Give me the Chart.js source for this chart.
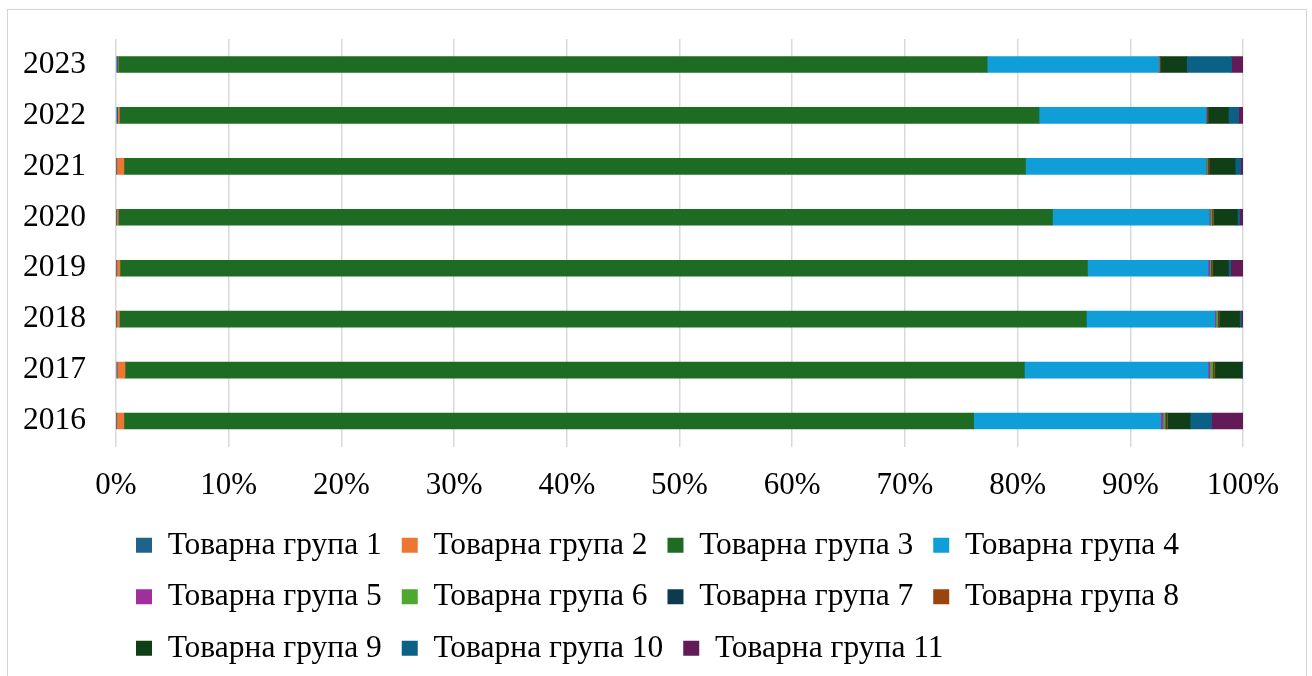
<!DOCTYPE html>
<html>
<head>
<meta charset="utf-8">
<script src="https://cdn.jsdelivr.net/npm/chart.js@4"></script>
<style>
  body { margin: 0; background: #fff; }
  #frame {
    position: absolute; left: 7px; top: 9px;
    width: 1298px; height: 700px;
    border: 1px solid #d4d4d4;
  }
  #wrap { position: relative; width: 1298px; height: 666px; }
</style>
</head>
<body>
<div id="frame">
  <div id="wrap"><canvas id="chart"></canvas></div>
</div>
<script>
const years = ['2016', '2017', '2018', '2019', '2020', '2021', '2022', '2023'];
const groups = ['Товарна група 1', 'Товарна група 2', 'Товарна група 3', 'Товарна група 4',
  'Товарна група 5', 'Товарна група 6', 'Товарна група 7', 'Товарна група 8',
  'Товарна група 9', 'Товарна група 10', 'Товарна група 11'];

// shares in %, one value per year 2016..2023
const group1 = [0.05, 0.1, 0.05, 0.05, 0.05, 0.05, 0.15, 0.15];
const group2 = [0.65, 0.7, 0.25, 0.3, 0.15, 0.65, 0.15, 0.05];
const group3 = [75.4, 79.8, 85.8, 85.85, 82.9, 80.0, 81.6, 77.1];
const group4 = [16.6, 16.3, 11.4, 10.7, 13.9, 16.0, 14.8, 15.2];
const group5 = [0.2, 0.15, 0.1, 0.15, 0.1, 0.05, 0.05, 0.05];
const group6 = [0.2, 0.25, 0.15, 0.1, 0.15, 0.1, 0.05, 0.05];
const group7 = [0.1, 0.05, 0.05, 0.05, 0.05, 0.05, 0.05, 0.05];
const group8 = [0.1, 0.15, 0.1, 0.1, 0.1, 0.1, 0.05, 0.05];
const group9 = [2.0, 2.4, 1.8, 1.4, 2.1, 2.3, 1.8, 2.3];
const group10 = [1.9, 0.05, 0.15, 0.2, 0.2, 0.5, 0.9, 4.0];
const group11 = [2.8, 0.05, 0.15, 1.1, 0.3, 0.2, 0.4, 1.0];

const xTicks = [0, 10, 20, 30, 40, 50, 60, 70, 80, 90, 100];

const colors = ['#1f6389', '#ed7632', '#1e6b24', '#109ed8', '#a22d9c', '#4ea72e',
  '#0e3a50', '#9a4510', '#103f17', '#0a6085', '#621b56'];

const values = [group1, group2, group3, group4, group5, group6, group7, group8, group9, group10, group11];

const font = 'Liberation Serif, Times New Roman, serif';

// legend rows start under the plot, not at the canvas edge
const legendIndent = {
  id: 'legendIndent',
  afterLayout(chart) {
    chart.legend.left = 108;
  },
};

new Chart(document.getElementById('chart'), {
  type: 'bar',
  data: {
    labels: years,
    datasets: groups.map((name, i) => ({
      label: name,
      data: values[i],
      backgroundColor: colors[i],
      borderWidth: 0,
      barThickness: 16,
    })),
  },
  plugins: [legendIndent],
  options: {
    indexAxis: 'y',
    responsive: true,
    maintainAspectRatio: false,
    animation: false,
    layout: { padding: { top: 29, right: 63, bottom: 2, left: 16 } },
    scales: {
      x: {
        stacked: true,
        min: 0,
        max: 100,
        afterBuildTicks: (axis) => { axis.ticks = xTicks.map(v => ({ value: v })); },
        afterFit: (axis) => { axis.height = 63; },
        grid: { color: '#d9d9d9', lineWidth: 1.5, drawTicks: false },
        border: { display: false },
        ticks: {
          padding: 21,
          color: '#000',
          font: { family: font, size: 31 },
          callback: (v) => v + '%',
        },
      },
      y: {
        stacked: true,
        reverse: true,
        afterFit: (axis) => { axis.width = 92; },
        grid: { color: 'transparent', drawTicks: true, tickLength: 30, tickColor: 'transparent' },
        border: { display: false },
        ticks: {
          padding: 0,
          color: '#000',
          font: { family: font, size: 31.5 },
        },
      },
    },
    plugins: {
      tooltip: { enabled: false },
      legend: {
        position: 'bottom',
        align: 'start',
        labels: {
          boxWidth: 16,
          boxHeight: 15,
          padding: 20,
          color: '#000',
          font: { family: font, size: 31.5 },
        },
      },
    },
  },
});
</script>
</body>
</html>
